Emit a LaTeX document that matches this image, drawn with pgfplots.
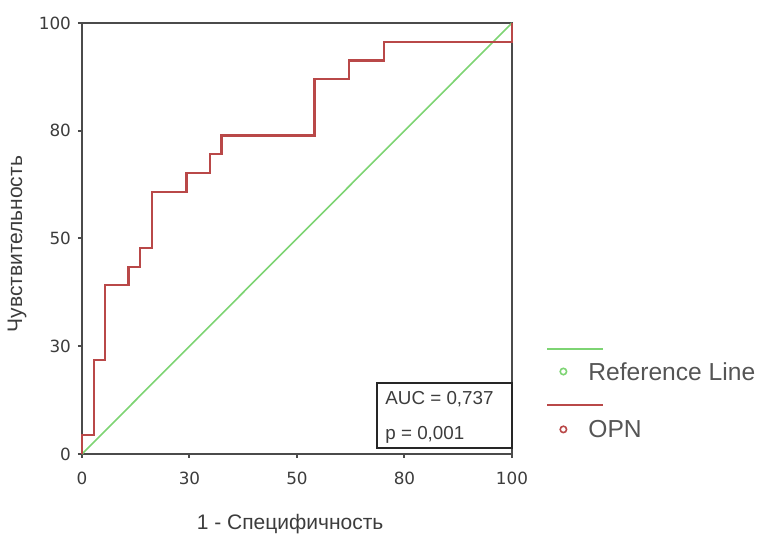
\documentclass[border=0pt]{standalone}
\usepackage{pgfplots}
\pgfplotsset{compat=1.18}
\usepackage{fontspec}
\setmainfont{Liberation Sans}
\newfontfamily\tickfont{DejaVu Sans}

\definecolor{refgreen}{RGB}{125,212,115}
\definecolor{opnred}{RGB}{185,72,72}
\definecolor{axgray}{RGB}{75,75,75}
\definecolor{txtgray}{RGB}{60,60,60}
\definecolor{leggray}{RGB}{85,85,85}

\begin{document}
\begin{tikzpicture}
% frame of the whole picture, 1px = 0.5pt
\path[use as bounding box] (-41pt,-41pt) rectangle (337.5pt,227pt);
\begin{axis}[
    at={(0,0)}, anchor=south west,
    width=215pt, height=215.5pt, scale only axis,
    xmin=0, xmax=100, ymin=0, ymax=100,
    xtick={0,25,50,75,100}, xticklabels={0,30,50,80,100},
    ytick={0,25,50,75,100}, yticklabels={0,30,50,80,100},
    tick pos=left, tick align=outside, major tick length=2pt,
    axis line style={axgray, line width=1pt},
    tick style={axgray, line width=1pt},
    ticklabel style={font=\tickfont\fontsize{8.4}{10}\selectfont, text=txtgray},
    xticklabel style={yshift=-3.5pt},
    xlabel={1 - Специфичность},
    ylabel={Чувствительность},
    label style={font=\fontsize{10.5}{12}\selectfont, text=txtgray},
    xlabel style={at={(axis description cs:0.484,-0.162)}, anchor=center},
    ylabel style={at={(axis description cs:-0.151,0.487)}, anchor=center},
    clip=false,
    legend cell align=left,
    legend style={at={(axis description cs:1.1093,0.213)}, anchor=north west,
        draw=none, fill=none, inner sep=0pt, row sep=20.2pt, column sep=0pt,
        nodes={inner sep=0pt, text depth=0pt, text=leggray,
               font=\fontsize{12.3}{14}\selectfont}},
]

\addplot[refgreen, line width=0.8pt,
    legend image code/.code={
        \draw[overlay, line width=1pt] (-8pt,11.5pt) -- (20pt,11.5pt);
        \draw[line width=0.8pt] (0pt,0pt) circle (1.6pt);
        \path[draw=none, fill=none] (-2pt,-2pt) rectangle (12.5pt,2pt);
    }] coordinates {(0,0) (100,100)};
\addlegendentry{Reference Line}

\addplot[opnred, line width=1.1pt, const plot,
    legend image code/.code={
        \draw[overlay, line width=1pt] (-8pt,12pt) -- (20pt,12pt);
        \draw[line width=0.8pt] (0pt,0pt) circle (1.6pt);
        \path[draw=none, fill=none] (-2pt,-2pt) rectangle (12.5pt,2pt);
    }] coordinates {
    (0,0) (0,4.35) (2.70,21.74) (5.41,39.13) (10.81,43.48) (13.51,47.83)
    (16.22,60.87) (24.32,65.22) (29.73,69.57) (32.43,73.91) (54.05,86.96)
    (62.16,91.30) (70.27,95.65) (100,100)
};
\addlegendentry{OPN}

\draw[black!85, line width=0.7pt] (rel axis cs:0.686,0.0139) rectangle (rel axis cs:1,0.1647);
\node[anchor=base west, inner sep=0pt, text=txtgray, font=\fontsize{9.4}{11}\selectfont]
    at (rel axis cs:0.7047,0.1137) {AUC = 0,737};
\node[anchor=base west, inner sep=0pt, text=txtgray, font=\fontsize{9.4}{11}\selectfont]
    at (rel axis cs:0.7047,0.0325) {p = 0,001};
\end{axis}
\end{tikzpicture}
\end{document}
